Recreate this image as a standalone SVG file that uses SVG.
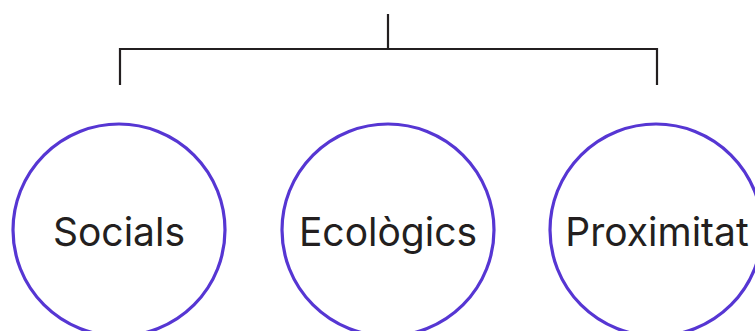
<svg xmlns="http://www.w3.org/2000/svg" width="755" height="331" viewBox="0 0 755 331">
<style>
.node circle{fill:#fff;stroke:#5636d3;stroke-width:3.2}
.node text{font-family:Inter,"Liberation Sans",sans-serif;font-size:39px;fill:#231f20;text-anchor:middle}
.conn path{fill:none;stroke:#231f20;stroke-width:2.2}
</style>
<rect width="755" height="331" fill="#fff"/>
<g id="connectors" class="conn">
<path d="M388 14V49M120 85V49H657V85"/>
</g>
<g id="node-socials" class="node">
<circle cx="119" cy="230" r="106"/>
<text x="119" y="246">Socials</text>
</g>
<g id="node-ecologics" class="node">
<circle cx="388" cy="230" r="106"/>
<text x="388" y="246">Ecològics</text>
</g>
<g id="node-proximitat" class="node">
<circle cx="656" cy="230" r="106"/>
<text x="657" y="246">Proximitat</text>
</g>
</svg>
